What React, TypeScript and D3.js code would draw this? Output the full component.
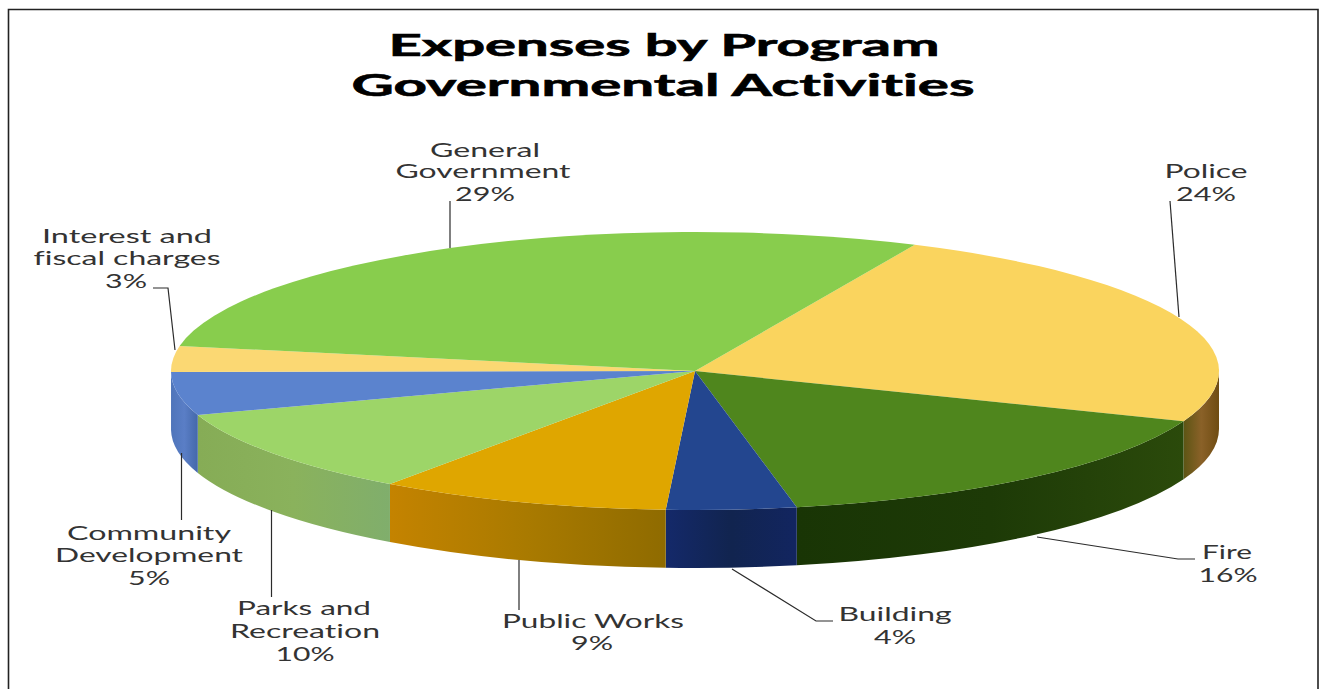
import React from "react";
import * as d3 from "d3";

// Program expense shares, clockwise from the Police slice
const programs = ["Police", "Fire", "Building", "Public Works", "Parks and Recreation", "Community Development", "Interest and fiscal charges", "General Government"];
const shares = [24, 16, 4, 9, 10, 5, 3, 29];
const titleLines = ["Expenses by Program", "Governmental Activities"];

const topColors = ["#fad45e", "#4f861d", "#23468f", "#dfa600", "#9dd568", "#5b83ce", "#fbd873", "#88cd4d"];
const wallStops = [
  ["#5c5514", "#8a6128", "#6f4c12"],
  ["#193505", "#1d3a07", "#2b4a0b"],
  ["#14296a", "#11244f", "#122560"],
  ["#c48300", "#a97a00", "#8f6b00"],
  ["#86ac56", "#8ab25c", "#80ae6c"],
  ["#4f75ba", "#5a7ec6", "#4468aa"],
  ["#fbd873", "#fbd873", "#fbd873"],
  ["#88cd4d", "#88cd4d", "#88cd4d"],
];

// Pie geometry on the page
const WIDTH = 1325;
const HEIGHT = 689;
const CX = 695;
const CY = 371;
const RX = 524;
const RY = 139;
const DEPTH = 58;
const START = (24.8 * Math.PI) / 180;

// Label lines: [text, centre x, baseline y, stretched width]
type Line = [string, number, number, number];
const labelLines: Line[] = [
  ["General", 485, 157, 110],
  ["Government", 483, 178, 175],
  ["29%", 485, 201, 60],
  ["Police", 1206, 178, 83],
  ["24%", 1206, 201, 60],
  ["Interest and", 127, 243, 170],
  ["fiscal charges", 127, 265, 187],
  ["3%", 126, 288, 42],
  ["Community", 149, 540, 164],
  ["Development", 149, 562, 188],
  ["5%", 149, 585, 42],
  ["Parks and", 304, 615, 134],
  ["Recreation", 305, 638, 150],
  ["10%", 305, 661, 59],
  ["Public Works", 593, 628, 182],
  ["9%", 592, 650, 42],
  ["Building", 895, 621, 113],
  ["4%", 895, 644, 42],
  ["Fire", 1227, 559, 50],
  ["16%", 1228, 582, 59],
];

// Leader lines running from each label to its slice
const leaders: [number, number][][] = [
  [[450, 201], [450, 248]],
  [[1170, 201], [1179, 317]],
  [[153, 288], [168, 288], [175, 350]],
  [[181.5, 453], [181.5, 520]],
  [[271.5, 510], [271.5, 597]],
  [[519, 560], [519, 610]],
  [[732, 569], [816, 621], [833, 621]],
  [[1037, 537], [1178, 559], [1195, 559]],
];

const pie = d3.pie<number>().sort(null).startAngle(START).endAngle(START + 2 * Math.PI);
const arc = d3.arc<d3.PieArcDatum<number>>().innerRadius(0).outerRadius(RX);
const leaderLine = d3.line();

const rim = (a: number, dy = 0): [number, number] => [CX + RX * Math.sin(a), CY - RY * Math.cos(a) + dy];

// Outer wall of a slice, limited to the half of the rim that faces the viewer
function wallPath(a0: number, a1: number): string | null {
  const from = Math.max(a0, Math.PI / 2);
  const to = Math.min(a1, (3 * Math.PI) / 2);
  if (to <= from) return null;
  const [x0, y0] = rim(from);
  const [x1, y1] = rim(to);
  return `M${x0},${y0}A${RX},${RY} 0 0 1 ${x1},${y1}L${x1},${y1 + DEPTH}A${RX},${RY} 0 0 0 ${x0},${y0 + DEPTH}Z`;
}

export default function App() {
  const slices = pie(shares);
  return (
    <svg
      width={WIDTH}
      height={HEIGHT}
      viewBox={`0 0 ${WIDTH} ${HEIGHT}`}
      style={{ position: "absolute", left: 0, top: 0, display: "block", background: "#fff", fontVariantLigatures: "none" }}
    >
      <defs>
        {wallStops.map((stops, i) => (
          <linearGradient key={i} id={`wall-${i}`} x1="0" x2="1" y1="0" y2="0">
            {stops.map((c, j) => (
              <stop key={j} offset={j / (stops.length - 1)} stopColor={c} />
            ))}
          </linearGradient>
        ))}
      </defs>

      <path d={`M8.5,${HEIGHT}V9.5H1318V${HEIGHT}`} fill="none" stroke="#222" strokeWidth={1.6} />

      <g fontFamily="Lato, sans-serif" fontWeight={700} fontSize={30} fill="#000" stroke="#000" strokeWidth={0.6} textAnchor="middle">
        {titleLines.map((t, i) => (
          <text key={t} x={i === 0 ? 664 : 663} y={56 + i * 40} textLength={i === 0 ? 551 : 623} lengthAdjust="spacingAndGlyphs">
            {t}
          </text>
        ))}
      </g>

      {slices.map((s, i) => {
        const d = wallPath(s.startAngle, s.endAngle);
        return d ? <path key={programs[i]} d={d} fill={`url(#wall-${i})`} /> : null;
      })}

      <g transform={`translate(${CX},${CY}) scale(1,${RY / RX})`}>
        {slices.map((s, i) => (
          <path key={programs[i]} d={arc(s) ?? ""} fill={topColors[i]} />
        ))}
      </g>

      <g fill="none" stroke="#2b2b2b" strokeWidth={1.2}>
        {leaders.map((pts, i) => (
          <path key={i} d={leaderLine(pts) ?? ""} />
        ))}
      </g>

      <g fontFamily="Lato, sans-serif" fontSize={19} fill="#333" textAnchor="middle">
        {labelLines.map(([t, x, y, w]) => (
          <text key={`${t}-${y}`} x={x} y={y} textLength={w} lengthAdjust="spacingAndGlyphs">
            {t}
          </text>
        ))}
      </g>
    </svg>
  );
}
